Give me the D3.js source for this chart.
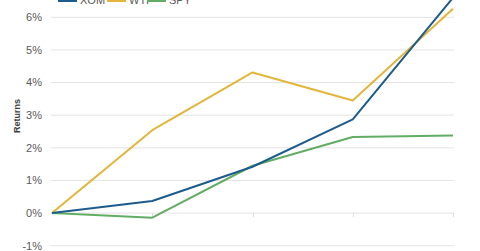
<!DOCTYPE html>
<html><head><meta charset="utf-8">
<script src="https://cdn.jsdelivr.net/npm/d3@7"></script>
<style>html,body{margin:0;padding:0;background:#fff;overflow:hidden}</style>
</head><body><svg id="c" width="480" height="251"></svg>
<script>
const categories = [0, 1, 2, 3, 4];
const seriesNames = ["XOM", "WTI", "SPY"];
const xomValues = [0, 0.37, 1.42, 2.87, 6.6];
const wtiValues = [0, 2.54, 4.31, 3.45, 6.26];
const spyValues = [0, -0.14, 1.45, 2.33, 2.38];
const yTicks = [-1, 0, 1, 2, 3, 4, 5, 6];
const colors = ["#1d5b8c", "#e3b53a", "#62ad64"];

const svg = d3.select("#c");
const x = d3.scalePoint().domain(categories).range([52, 453]);
const y = d3.scaleLinear().domain([-1, 6]).range([245.7, 17.3]);

// gridlines
svg.append("g").selectAll("line").data(yTicks).join("line")
  .attr("x1", 51).attr("x2", 454)
  .attr("y1", d => y(d)).attr("y2", d => y(d))
  .attr("stroke", "#e3e3e3").attr("stroke-width", 1);

// y tick labels
svg.append("g").selectAll("text").data(yTicks).join("text")
  .attr("x", 42).attr("y", d => y(d)).attr("dy", "0.35em")
  .attr("text-anchor", "end")
  .attr("font-family", "Liberation Sans, Arial, sans-serif")
  .attr("font-size", 11).attr("fill", "#595959")
  .text(d => d + "%");

// x tick marks at 0 line
svg.append("g").selectAll("line").data(categories.slice(1)).join("line")
  .attr("x1", d => Math.round(x(d)) + 0.5).attr("x2", d => Math.round(x(d)) + 0.5)
  .attr("y1", y(0)).attr("y2", y(0) + 4)
  .attr("stroke", "#dcdcdc");

// y axis title
svg.append("text")
  .attr("transform", "translate(20,116) rotate(-90)")
  .attr("text-anchor", "middle")
  .attr("font-family", "Liberation Sans, Arial, sans-serif")
  .attr("font-size", 9).attr("font-weight", "bold").attr("fill", "#404040")
  .text("Returns");

const allSeries = [xomValues, wtiValues, spyValues];
const line = d3.line().x((d, i) => x(categories[i])).y(d => y(d));
const order = [2, 1, 0];
svg.append("g").selectAll("path").data(order).join("path")
  .attr("d", i => line(allSeries[i]))
  .attr("fill", "none").attr("stroke", i => colors[i]).attr("stroke-width", 2)
  .attr("stroke-linejoin", "round");

// legend
const legX = [58, 107, 147];
const lg = svg.append("g").selectAll("g").data(seriesNames).join("g")
  .attr("transform", (d, i) => `translate(${legX[i]},0)`);
lg.append("line").attr("x1", 0).attr("x2", 19).attr("y1", 1).attr("y2", 1)
  .attr("stroke", (d, i) => colors[i]).attr("stroke-width", 2);
lg.append("text").attr("x", 22).attr("y", 4)
  .attr("font-family", "Liberation Sans, Arial, sans-serif")
  .attr("font-size", 11).attr("fill", "#595959")
  .text(d => d);
</script></body></html>
